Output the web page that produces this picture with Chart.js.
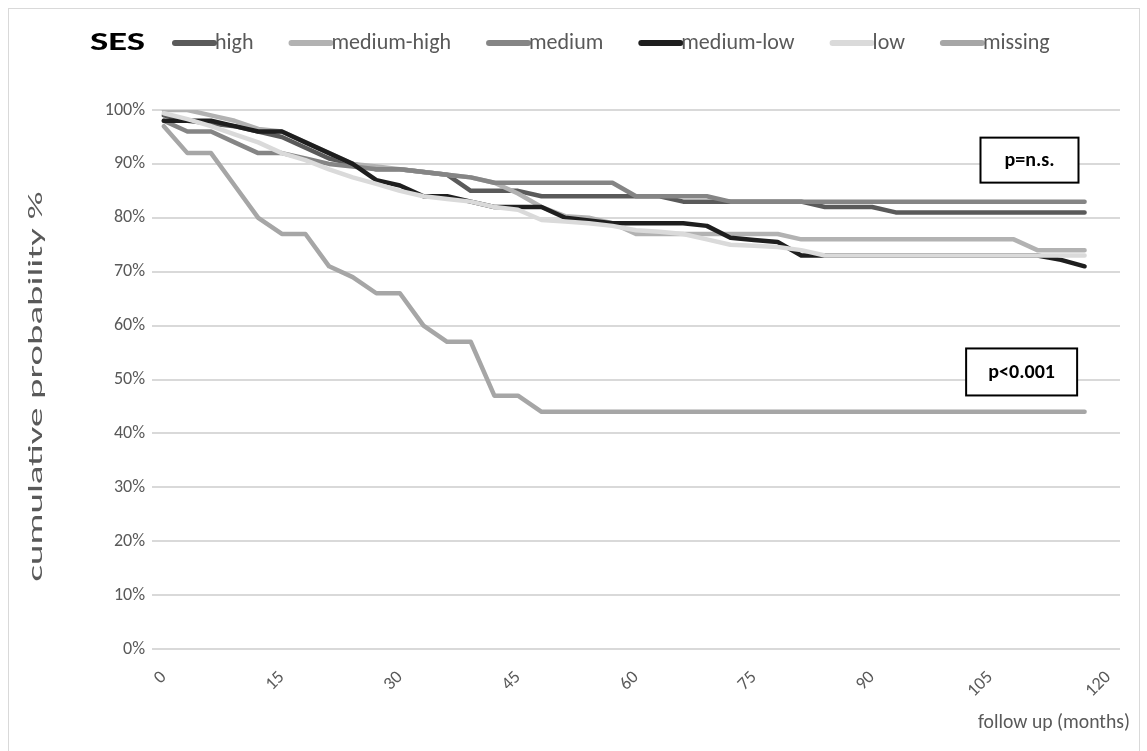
<!DOCTYPE html>
<html>
<head>
<meta charset="utf-8">
<script src="https://cdn.jsdelivr.net/npm/chart.js@4.4.0/dist/chart.umd.min.js"></script>
<style>
  html, body { margin: 0; padding: 0; background: #fff; }
  #wrap { position: relative; width: 1147px; height: 751px; }
</style>
</head>
<body>
<div id="wrap"><canvas id="chart" width="1147" height="751"></canvas></div>
<script>
const FONT = 'Carlito, Lato, sans-serif'

// follow up in months, one point every 3 months
const months = [0, 3, 6, 9, 12, 15, 18, 21, 24, 27, 30, 33, 36, 39, 42, 45, 48, 51, 54, 57,
  60, 63, 66, 69, 72, 75, 78, 81, 84, 87, 90, 93, 96, 99, 102, 105, 108, 111, 114, 117]
const xTicks = [0, 15, 30, 45, 60, 75, 90, 105, 120]

const seriesNames = ['high', 'medium-high', 'medium', 'medium-low', 'low', 'missing']
const seriesColors = ['#5a5a5a', '#b2b2b2', '#858585', '#1e1e1e', '#dadada', '#a6a6a6']

// cumulative probability %
const high = [99, 98, 97.5, 97, 96, 95, 93, 91, 90, 89, 89, 88.5, 88, 85, 85, 85, 84, 84, 84, 84,
  84, 84, 83, 83, 83, 83, 83, 83, 82, 82, 82, 81, 81, 81, 81, 81, 81, 81, 81, 81]
const mediumHigh = [100, 100, 99, 98, 96.5, 96, 94, 92, 90, 89.5, 89, 88.5, 88, 87.5, 86.5, 84.5, 82, 80.3, 80, 79,
  77, 77, 77, 77, 77, 77, 77, 76, 76, 76, 76, 76, 76, 76, 76, 76, 76, 74, 74, 74]
const medium = [98, 96, 96, 94, 92, 92, 91, 90, 89.5, 89, 89, 88.5, 88, 87.5, 86.5, 86.5, 86.5, 86.5, 86.5, 86.5,
  84, 84, 84, 84, 83, 83, 83, 83, 83, 83, 83, 83, 83, 83, 83, 83, 83, 83, 83, 83]
const mediumLow = [98, 98, 98, 97, 96, 96, 94, 92, 90, 87, 86, 84, 84, 83, 82, 82, 82, 80, 79.5, 79,
  79, 79, 79, 78.5, 76.3, 75.9, 75.5, 73, 73, 73, 73, 73, 73, 73, 73, 73, 73, 73, 72.2, 71]
const low = [99.4, 98.3, 97, 95.5, 94, 92, 90.7, 89, 87.5, 86.3, 85, 84, 83.5, 83, 82, 81.5, 79.6, 79.3, 79, 78.5,
  77.7, 77.4, 77, 76, 75, 74.8, 74.6, 74, 73, 73, 73, 73, 73, 73, 73, 73, 73, 73, 73, 73]
const missing = [97, 92, 92, 86, 80, 77, 77, 71, 69, 66, 66, 60, 57, 57, 47, 47, 44, 44, 44, 44,
  44, 44, 44, 44, 44, 44, 44, 44, 44, 44, 44, 44, 44, 44, 44, 44, 44, 44, 44, 44]

const allSeries = [high, mediumHigh, medium, mediumLow, low, missing]

const datasets = allSeries.map((vals, i) => ({
  label: seriesNames[i],
  data: vals.map((v, j) => ({ x: months[j], y: v })),
  borderColor: seriesColors[i],
  backgroundColor: seriesColors[i],
  borderWidth: 4.5,
  borderJoinStyle: 'round',
  borderCapStyle: 'round',
  pointRadius: 0,
  tension: 0,
  order: allSeries.length - 1 - i   // later series drawn on top, like the original
}))

// text squeezed/stretched along its baseline to a given length
function fitText(c, text, x, y, len) {
  const w = c.measureText(text).width
  c.save()
  c.translate(x, y)
  c.scale(len / w, 1)
  c.fillText(text, 0, 0)
  c.restore()
}

const extras = {
  id: 'extras',
  afterDraw(chart) {
    const c = chart.ctx
    const a = chart.chartArea
    const sx = chart.scales.x
    const sy = chart.scales.y
    c.save()

    // outer frame
    c.strokeStyle = '#d9d9d9'
    c.lineWidth = 1
    c.strokeRect(8.5, 8.5, 1131, 780)

    // legend with SES heading
    c.textBaseline = 'middle'
    c.textAlign = 'left'
    c.font = 'bold 27px ' + FONT
    c.fillStyle = '#000'
    fitText(c, 'SES', 90, 43, 55)
    c.font = '22px ' + FONT
    let x = 172
    chart.data.datasets.forEach(ds => {
      c.strokeStyle = ds.borderColor
      c.lineWidth = 6
      c.lineCap = 'round'
      c.beginPath()
      c.moveTo(x + 3, 43)
      c.lineTo(x + 42, 43)
      c.stroke()
      c.fillStyle = '#595959'
      c.fillText(ds.label, x + 43, 43)
      x += 43 + c.measureText(ds.label).width + 35
    })

    // axis titles
    c.font = '20px ' + FONT
    c.fillStyle = '#595959'
    c.textAlign = 'left'
    fitText(c, 'follow up (months)', 978, 723, 152)
    c.save()
    c.translate(37, (a.top + a.bottom) / 2 + 7)
    c.rotate(-Math.PI / 2)
    fitText(c, 'cumulative probability %', -195, 0, 390)
    c.restore()

    // p-value boxes
    const box = (text, mx, vy, w, h) => {
      const cx = sx.getPixelForValue(mx)
      const cy = sy.getPixelForValue(vy)
      c.fillStyle = '#fff'
      c.fillRect(cx - w / 2, cy - h / 2, w, h)
      c.strokeStyle = '#000'
      c.lineWidth = 2
      c.strokeRect(cx - w / 2, cy - h / 2, w, h)
      c.fillStyle = '#000'
      c.font = 'bold 20px ' + FONT
      c.textAlign = 'center'
      c.fillText(text, cx, cy + 1)
    }
    box('p=n.s.', 110, 90.7, 98, 45)
    box('p<0.001', 109, 51.4, 111, 47)

    c.restore()
  }
}

new Chart(document.getElementById('chart'), {
  type: 'line',
  data: { datasets },
  options: {
    responsive: false,
    animation: false,
    layout: { padding: { top: 110, right: 27, left: 0, bottom: 0 } },
    plugins: { legend: { display: false }, tooltip: { enabled: false } },
    scales: {
      x: {
        type: 'linear',
        min: -1.5,
        max: 121.5,
        afterBuildTicks: s => { s.ticks = xTicks.map(v => ({ value: v })) },
        afterFit: s => { s.height = 102 },
        grid: { display: false },
        border: { display: false },
        ticks: {
          minRotation: 45,
          maxRotation: 45,
          padding: 10,
          color: '#595959',
          font: { family: FONT, size: 18 }
        }
      },
      y: {
        min: 0,
        max: 100,
        afterFit: s => { s.width = 152 },
        border: { display: false },
        grid: { color: '#d9d9d9', lineWidth: 2, drawTicks: false },
        ticks: {
          stepSize: 10,
          padding: 7,
          color: '#595959',
          font: { family: FONT, size: 18 },
          callback: v => v + '%'
        }
      }
    }
  },
  plugins: [extras]
})
</script>
</body>
</html>
